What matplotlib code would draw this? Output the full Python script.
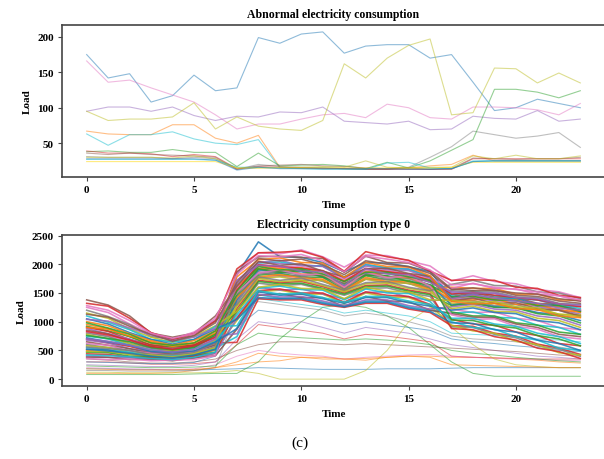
import matplotlib
matplotlib.use("Agg")
import matplotlib.pyplot as plt

hours = list(range(24))

# ---------------- Top panel: abnormal consumption ----------------
abn_blue   = [175,142,148,108,117,146,124,128,199,191,204,207,177,187,189,189,170,175,136,96,100,112,106,100]
abn_pink   = [166,136,139,128,118,108,90,70,77,77,84,90,92,86,105,100,86,84,101,101,100,97,90,106]
abn_gray   = [95,101,101,95,101,89,82,88,87,94,93,101,81,79,77,81,69,70,88,85,84,96,81,84]
abn_olive  = [95,82,84,84,87,107,70,87,74,70,68,82,162,142,170,188,197,90,93,156,155,135,149,135]
abn_orange = [67,63,62,62,76,76,57,50,61,16,15,15,14,13,14,15,18,20,33,25,25,25,25,25]
abn_cyan   = [63,47,62,62,66,56,50,48,55,15,15,15,14,13,13,14,14,14,24,25,25,25,25,25]
abn_purple = [31,30,30,30,28,30,28,13,20,17,16,15,14,14,13,16,30,45,67,62,57,60,65,44]
abn_green  = [38,39,37,37,41,37,37,17,36,18,19,20,18,14,23,15,25,40,55,126,126,122,114,124]
abn_red    = [39,36,36,35,31,34,31,14,17,16,15,14,14,13,13,13,13,13,28,28,28,28,28,28]
abn_brown  = [36,34,36,34,33,32,30,13,18,19,20,18,17,15,14,15,13,14,29,28,27,28,28,30]
abn_lolive = [30,30,30,30,29,32,28,15,15,16,16,17,16,25,16,15,16,16,32,28,33,28,28,32]
abn_teal   = [27,27,27,27,27,27,26,16,16,15,14,13,13,13,22,23,15,14,25,25,25,25,25,25]
abn_gold   = [24,24,24,24,24,24,24,15,15,15,15,15,15,15,15,15,15,16,23,23,23,23,23,23]
abn_lblue  = [28,28,28,28,28,28,26,12,16,14,14,14,14,14,14,13,13,14,24,25,25,25,25,25]

abnormal_series = [
    (abn_blue, "tab:blue"), (abn_pink, "tab:pink"), (abn_gray, "tab:purple"),
    (abn_olive, "tab:olive"), (abn_orange, "tab:orange"), (abn_cyan, "tab:cyan"),
    (abn_purple, "tab:gray"), (abn_green, "tab:green"), (abn_red, "tab:red"),
    (abn_brown, "tab:brown"), (abn_lolive, "tab:olive"), (abn_teal, "tab:cyan"),
    (abn_gold, "gold"), (abn_lblue, "tab:blue"),
]

# ---------------- Bottom panel: type 0 consumption ----------------
type0_high = [
    [1380,1290,1100,800,730,800,1100,1620,2050,1980,2010,1880,1780,1920,1930,1840,1790,1360,1410,1320,1330,1230,1200,1100],
    [1250,1160,960,790,690,820,1030,1500,1850,1900,1820,1830,1600,1860,1770,1790,1620,1120,1040,1050,920,870,740,700],
    [1200,1090,950,740,700,750,1020,1300,1780,1720,1760,1650,1550,1680,1700,1600,1540,1650,1720,1630,1620,1520,1500,1400],
    [1150,1060,870,730,640,740,930,1180,1600,1650,1580,1570,1400,1600,1530,1520,1380,1370,1340,1350,1260,1240,1130,1090],
    [1100,990,860,690,650,690,920,930,1540,1480,1500,1420,1340,1440,1440,1360,1300,1060,1060,960,920,800,740,620],
    [1050,960,810,690,610,690,870,1040,1420,1400,1400,1320,1260,1340,1340,1240,1180,980,970,860,820,680,620,500],
    [1000,930,790,670,590,670,840,1780,2080,2110,2030,2020,1770,2030,1960,1950,1800,1350,1310,1320,1230,1210,1100,1070],
    [980,890,780,630,590,630,840,1530,1960,1900,1920,1830,1700,1860,1860,1780,1720,1030,1020,930,890,760,700,580],
    [1320,1270,1060,810,690,790,1010,1920,2200,2210,2230,2120,1880,2220,2130,2070,1880,1720,1730,1720,1600,1580,1460,1420],
    [1040,1010,890,770,670,730,890,1720,1980,1970,1880,1870,1630,1920,1830,1820,1680,1520,1500,1500,1420,1400,1310,1290],
    [1130,1080,920,780,660,760,980,1680,2100,2060,2090,1990,1820,2060,2000,1960,1840,1560,1590,1540,1500,1480,1400,1360],
    [1280,1200,1020,800,710,790,1060,1820,2150,2130,2170,2060,1870,2140,2090,2030,1900,1640,1660,1600,1560,1520,1450,1380],
]
type0_mid = [
    [950,880,740,630,550,630,790,1420,1780,1820,1760,1740,1540,1770,1700,1700,1560,1600,1580,1580,1480,1480,1380,1370],
    [920,840,740,590,560,590,790,1180,1700,1660,1670,1580,1480,1610,1620,1530,1470,1280,1320,1250,1240,1140,1100,980],
    [900,830,690,600,530,600,750,1060,1540,1570,1500,1500,1340,1520,1460,1440,1300,1040,960,940,820,760,620,580],
    [880,790,700,560,530,560,750,790,1480,1430,1440,1360,1280,1380,1380,1280,1220,1260,1300,1220,1200,1100,1060,940],
    [850,790,660,570,500,570,710,1870,2130,2140,2120,2100,1860,2140,2030,2020,1880,1570,1540,1550,1460,1440,1360,1320],
    [820,750,660,530,510,540,710,1580,2000,1950,1970,1880,1740,1900,1900,1820,1760,1580,1670,1580,1570,1480,1450,1360],
    [800,740,620,540,480,550,680,1470,1830,1870,1810,1800,1580,1820,1760,1750,1600,1540,1520,1520,1430,1420,1320,1300],
    [780,700,620,500,490,520,680,1280,1750,1700,1720,1630,1520,1660,1670,1580,1520,1230,1270,1180,1170,1060,1020,900],
    [750,700,590,510,460,530,650,1120,1580,1620,1560,1550,1380,1570,1500,1490,1350,1000,900,870,740,680,540,500],
    [720,650,590,480,470,490,650,880,1520,1460,1480,1400,1320,1420,1420,1330,1270,1200,1240,1160,1140,1020,980,860],
    [900,870,750,650,570,630,810,1620,1930,1920,1830,1820,1600,1870,1780,1770,1630,1370,1380,1400,1300,1300,1200,1170],
    [760,710,650,550,510,550,770,1480,1920,1860,1890,1780,1650,1810,1800,1700,1640,1430,1440,1380,1370,1280,1280,1180],
    [830,770,680,570,520,580,730,1550,1990,1960,1930,1890,1700,1930,1870,1830,1720,1480,1510,1460,1420,1380,1310,1260],
    [700,660,590,510,470,520,700,1650,2040,2010,1990,1960,1760,1970,1910,1890,1760,1400,1470,1410,1360,1320,1240,1200],
]
type0_low = [
    [700,630,570,470,460,480,630,640,1400,1380,1380,1300,1250,1320,1320,1220,1160,930,920,800,750,610,540,430],
    [680,630,530,480,430,490,590,1720,2030,2070,1980,1970,1760,2000,1930,1920,1780,1500,1480,1490,1400,1380,1280,1270],
    [650,590,530,450,440,460,600,1480,1920,1880,1900,1800,1670,1830,1840,1760,1700,1440,1500,1430,1420,1320,1300,1200],
    [620,590,490,450,410,470,560,1370,1760,1800,1730,1720,1520,1740,1680,1670,1530,1220,1160,1170,1060,1020,900,860],
    [600,550,500,420,420,440,570,1160,1670,1630,1650,1560,1460,1580,1590,1500,1440,910,900,780,720,580,520,400],
    [580,550,460,430,390,450,530,1020,1520,1550,1480,1480,1320,1500,1430,1420,1280,940,840,800,660,600,460,420],
    [550,510,470,400,400,420,540,740,1470,1410,1420,1340,1270,1360,1360,1260,1200,1150,1170,1080,1060,940,900,780],
    [520,510,430,410,370,430,510,1820,2390,2130,2120,2030,1870,2030,2020,1960,1870,1420,1470,1400,1400,1300,1280,1180],
    [500,470,440,380,380,400,510,1560,1970,1930,1940,1860,1720,1880,1880,1800,1740,1400,1450,1380,1380,1280,1260,1160],
    [470,460,400,390,350,410,470,1440,1810,1840,1780,1770,1560,1800,1730,1720,1580,1170,1100,1100,980,940,820,780],
    [440,430,380,370,340,400,450,1230,1720,1680,1700,1610,1500,1630,1640,1550,1490,880,860,740,680,540,480,360],
    [400,380,380,340,350,370,450,1060,1600,1550,1570,1480,1400,1510,1520,1430,1370,1380,1420,1360,1360,1260,1220,1130],
    [380,380,340,350,320,370,410,870,1460,1490,1420,1420,1260,1440,1360,1350,1200,1140,1080,1070,960,900,780,740],
    [360,340,350,320,330,340,410,1860,2200,2180,2250,2130,1950,2160,2150,2060,1970,1710,1800,1700,1660,1560,1520,1420],
    [560,530,500,430,430,460,630,1330,1870,1800,1800,1700,1580,1740,1740,1660,1600,1360,1370,1280,1300,1200,1200,1080],
    [480,480,430,420,380,440,550,1270,1760,1780,1720,1720,1530,1740,1680,1670,1540,1320,1300,1320,1230,1220,1130,1120],
    [420,410,390,360,340,380,470,1600,2020,2040,1980,1970,1780,1990,1940,1910,1790,1460,1540,1450,1410,1380,1300,1230],
    [520,490,450,400,370,420,520,1380,1900,1850,1870,1780,1620,1850,1790,1770,1640,1290,1340,1260,1250,1160,1120,1020],
]
type0_outliers = [
    [180,180,170,170,160,160,170,180,200,190,180,170,170,170,180,180,180,190,200,200,200,200,200,200],
    [100,100,100,100,110,150,200,250,300,320,380,380,350,330,380,400,400,380,380,370,350,330,300,280],
    [80,80,80,80,80,90,100,100,300,700,1000,1250,1300,1250,1100,900,600,300,100,50,50,50,50,50],
    [300,300,280,260,260,270,300,600,950,900,850,800,700,780,750,700,650,400,380,370,360,350,350,350],
    [250,240,230,220,220,240,300,700,1000,950,1000,900,800,900,850,800,700,600,550,500,450,400,380,350],
    [350,330,300,280,280,300,350,500,600,650,650,620,600,620,600,580,560,540,520,500,480,450,420,400],
    [200,190,180,170,170,180,250,400,500,450,420,400,350,380,400,420,430,400,380,360,350,340,330,320],
    [150,150,140,140,140,150,200,1200,1350,1300,1250,1200,1100,1150,1100,1000,900,750,700,680,650,600,560,500],
    [120,120,110,110,110,110,120,150,100,0,0,0,0,150,500,1000,1250,900,600,350,250,220,200,200],
    [400,380,360,350,340,360,450,1100,1400,1350,1300,1250,1150,1200,1150,1100,1000,800,780,760,740,700,680,650],
    [300,290,280,270,270,290,400,900,1200,1150,1100,1050,950,1000,950,900,850,700,650,620,580,550,500,480],
    [180,170,160,160,160,170,200,300,450,400,380,350,350,360,380,400,380,250,240,230,220,210,200,200],
    [230,220,210,200,200,210,230,600,800,750,720,700,680,700,680,650,600,500,450,420,380,350,320,300],
]

x_ticks = [0, 5, 10, 15, 20]
top_title = "Abnormal electricity consumption"
bottom_title = "Electricity consumption type 0"

serif = ["Liberation Serif", "DejaVu Serif"]
plt.rcParams["font.family"] = serif

fig = plt.figure(figsize=(6.04, 4.60), dpi=100)
W, H = 604.0, 460.0
ax1 = fig.add_axes([62/W, 1-178/H, (605-62)/W, 152/H])
ax2 = fig.add_axes([62/W, 1-387/H, (605-62)/W, 151/H])

for vals, col in abnormal_series:
    ax1.plot(hours, vals, color=col, lw=0.8, alpha=0.5)

cycle = ["tab:blue", "tab:orange", "tab:green", "tab:red", "tab:purple",
         "tab:brown", "tab:pink", "tab:gray", "tab:olive", "tab:cyan"]
k = 0
for group, lw, al in ((type0_outliers, 0.7, 0.55), (type0_low, 1.15, 0.85),
                      (type0_mid, 1.15, 0.85), (type0_high, 1.15, 0.85)):
    for vals in group:
        ax2.plot(hours, vals, color=cycle[k % 10], lw=lw, alpha=al)
        k += 1

for ax, title in ((ax1, top_title), (ax2, bottom_title)):
    ax.set_title(title, fontsize=8.5, fontweight="bold", pad=6)
    ax.set_xlabel("Time", fontsize=8, fontweight="bold", labelpad=4)
    ax.set_ylabel("Load", fontsize=8, fontweight="bold", labelpad=4)
    ax.set_xticks(x_ticks)
    for s in ("top", "right", "left", "bottom"):
        ax.spines[s].set_color("#444444")
        ax.spines[s].set_linewidth(1.2)
    ax.tick_params(axis="both", length=3, width=0.8, color="#444444",
                   labelsize=8, pad=3)
    for lab in ax.get_xticklabels() + ax.get_yticklabels():
        lab.set_fontweight("bold")

ax1.set_yticks([50, 100, 150, 200])
ax2.set_yticks([0, 500, 1000, 1500, 2000, 2500])

fig.text(0.497, 1-443/H, "(c)", fontsize=11, ha="center", va="center")

fig.savefig("out.png", dpi=100)
